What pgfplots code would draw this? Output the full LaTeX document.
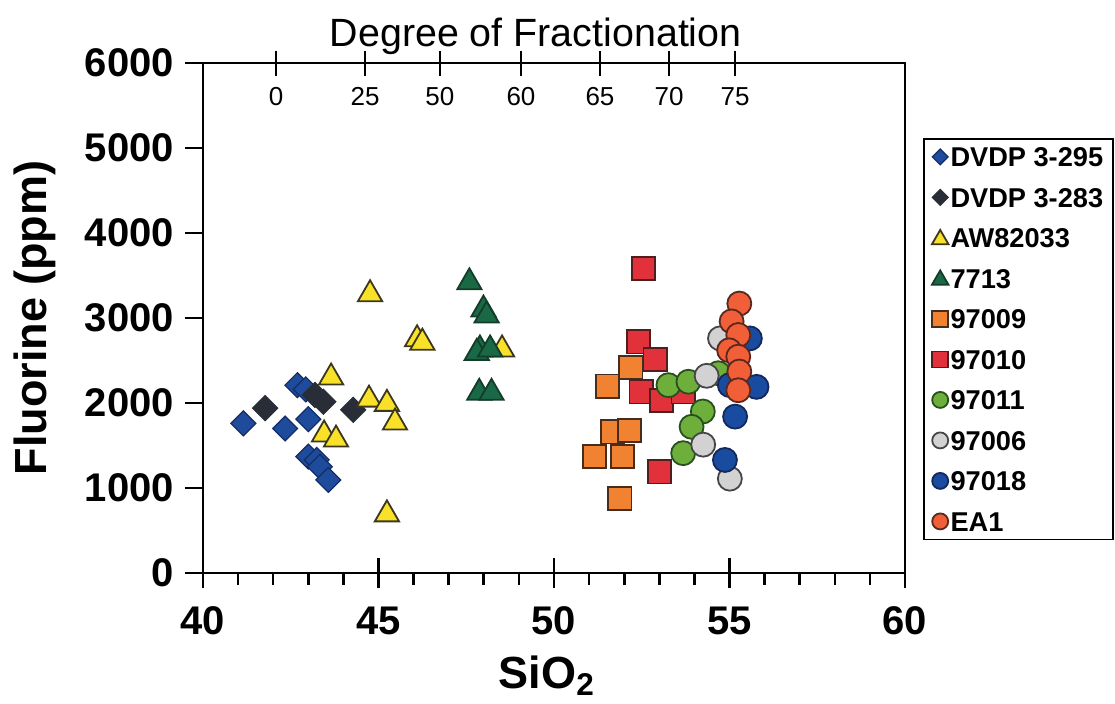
\documentclass[border=0pt]{standalone}
\usepackage{fontspec}
\setmainfont{Liberation Sans}
\usepackage{pgfplots}
\pgfplotsset{compat=1.18}
\definecolor{dvblue}{RGB}{30,75,155}
\definecolor{dvblueE}{RGB}{20,45,100}
\definecolor{dvdark}{RGB}{40,45,55}
\definecolor{yel}{RGB}{248,225,40}
\definecolor{yelE}{RGB}{60,55,30}
\definecolor{gtri}{RGB}{25,105,70}
\definecolor{gtriE}{RGB}{20,60,40}
\definecolor{osq}{RGB}{240,130,50}
\definecolor{osqE}{RGB}{70,45,30}
\definecolor{rsq}{RGB}{225,50,60}
\definecolor{rsqE}{RGB}{80,30,30}
\definecolor{gci}{RGB}{110,175,60}
\definecolor{gciE}{RGB}{40,80,30}
\definecolor{gyci}{RGB}{210,210,210}
\definecolor{gyciE}{RGB}{70,70,70}
\definecolor{bci}{RGB}{25,75,160}
\definecolor{bciE}{RGB}{20,40,90}
\definecolor{eaci}{RGB}{240,95,55}
\definecolor{eaciE}{RGB}{90,40,30}
\pgfplotsset{
  common/.style={scale only axis, width=351pt, height=255pt,
    xmin=40, xmax=60, ymin=0, ymax=6000,
    axis line style={line width=1.3pt},
    tick style={line width=1.3pt, black},
    /pgf/number format/assume math mode=true,
    /pgf/number format/1000 sep={}},
  bigleg/.style={legend image code/.code={\draw[##1, mark size=4pt] plot coordinates {(0pt,0pt)};}},
  trileg/.style={legend image code/.code={\draw[##1, mark size=4.8pt] plot coordinates {(0pt,-0.8pt)};}},
  smallleg/.style={legend image code/.code={\draw[##1, mark size=2.8pt] plot coordinates {(0pt,0pt)};}},
}
\begin{document}
\begin{tikzpicture}
\path[use as bounding box] (-101.5pt,-65pt) rectangle (456pt,286.5pt);
% y ticks axis
\begin{axis}[common,
  axis x line=none, axis y line*=left,
  xtick=\empty,
  ytick={0,1000,2000,3000,4000,5000,6000},
  tick align=outside, major tick length=9pt,
  yticklabel style={font=\fontsize{20}{24}\selectfont\bfseries, anchor=east, xshift=-2pt},
  ylabel={\bfseries Fluorine (ppm)},
  ylabel style={font=\fontsize{22.5}{26}\selectfont, at={(axis description cs:-0.2393,0.5)}, anchor=center},
]
\end{axis}
% top fractionation axis
\begin{axis}[common,
  axis x line*=top, axis y line=none,
  ytick=\empty,
  xtick={42.08,44.62,46.75,49.06,51.31,53.28,55.16},
  xticklabels={0,25,50,60,65,70,75},
  tick align=center, major tick length=12.5pt,
  xticklabel style={font=\fontsize{13}{16}\selectfont, anchor=north, yshift=-15pt},
]
\end{axis}
% main axis
\begin{axis}[common,
  xtick={40,45,50,55,60}, minor x tick num=4, xtick pos=lower,
  ytick=\empty,
  tick align=center, major tick length=15pt, minor tick length=6pt,
  minor x tick style={yshift=-3pt},
  xticklabel style={font=\fontsize{20}{24}\selectfont\bfseries, yshift=-6pt},
  xlabel={\bfseries SiO\textsubscript{2}},
  xlabel style={font=\fontsize{22.5}{26}\selectfont, at={(axis description cs:0.49,-0.2255)}, anchor=base},
  title={Degree of Fractionation},
  title style={font=\fontsize{19.7}{23}\selectfont, at={(axis description cs:0.474,1.0353)}, anchor=base, yshift=-6.5pt},
  legend style={at={(1,1)}, anchor=north west, xshift=9pt, yshift=-37.5pt,
    draw=black, line width=0.9pt,
    font=\fontsize{13.6}{16}\selectfont\bfseries,
    nodes={inner sep=1pt, text height=10pt, text depth=0pt},
    row sep=8.25pt, inner xsep=4pt, inner ysep=3pt},
  legend cell align=left,
  bigleg,
]
\addplot[only marks, mark=square*, mark size=4.4pt, mark options={rotate=45, fill=dvblue, draw=dvblueE, line width=0.6pt}, smallleg]
  coordinates {(41.15,1760) (42.34,1700) (42.69,2210) (42.93,2160) (43.0,1810) (43.0,1370) (43.24,1330) (43.33,1250) (43.57,1095)};
\addlegendentry{DVDP 3-295}
\addplot[only marks, mark=square*, mark size=4.4pt, mark options={rotate=45, fill=dvdark, draw=dvdark, line width=0.6pt}, smallleg]
  coordinates {(41.77,1940) (43.19,2095) (43.43,2015) (44.28,1920)};
\addlegendentry{DVDP 3-283}
\addplot[only marks, mark=triangle*, mark size=7pt, mark options={fill=yel, draw=yelE, line width=0.9pt}, trileg]
  coordinates {(43.65,2300) (44.76,3280) (46.1,2750) (46.25,2710) (44.73,2040) (45.24,1990) (45.47,1770) (43.45,1630) (43.79,1570) (45.24,690) (48.52,2630)};
\addlegendentry{AW82033}
\addplot[only marks, mark=triangle*, mark size=7pt, mark options={fill=gtri, draw=gtriE, line width=0.9pt}, trileg]
  coordinates {(47.59,3420) (47.99,3100) (48.08,3030) (47.89,2630) (47.8,2590) (48.18,2630) (47.87,2120) (48.22,2120)};
\addlegendentry{7713}
\addplot[only marks, mark=square*, mark size=5.8pt, mark options={fill=osq, draw=osqE, line width=0.9pt}]
  coordinates {(51.53,2200) (52.19,2420) (51.67,1660) (52.15,1680) (51.15,1370) (51.96,1370) (51.88,880)};
\addlegendentry{97009}
\addplot[only marks, mark=square*, mark size=5.8pt, mark options={fill=rsq, draw=rsqE, line width=0.9pt}]
  coordinates {(52.55,3580) (52.4,2720) (52.88,2510) (52.48,2130) (53.07,2030) (53.0,1190) (53.68,2130)};
\addlegendentry{97010}
\addplot[only marks, mark=*, mark size=6pt, mark options={fill=gci, draw=gciE, line width=0.9pt}]
  coordinates {(53.26,2210) (53.83,2250) (54.68,2350) (54.24,1900) (53.92,1720) (53.68,1410)};
\addlegendentry{97011}
\addplot[only marks, mark=*, mark size=6pt, mark options={fill=gyci, draw=gyciE, line width=0.9pt}]
  coordinates {(54.35,2320) (54.73,2760) (54.25,1510) (55.01,1110)};
\addlegendentry{97006}
\addplot[only marks, mark=*, mark size=6pt, mark options={fill=bci, draw=bciE, line width=0.9pt}]
  coordinates {(55.58,2760) (55.77,2190) (55.16,1840) (54.87,1330) (55.01,2210)};
\addlegendentry{97018}
\addplot[only marks, mark=*, mark size=6pt, mark options={fill=eaci, draw=eaciE, line width=0.9pt}]
  coordinates {(55.28,3170) (55.06,2960) (55.25,2800) (54.99,2620) (55.25,2545) (55.28,2370) (55.25,2150)};
\addlegendentry{EA1}
\end{axis}
\end{tikzpicture}
\end{document}
